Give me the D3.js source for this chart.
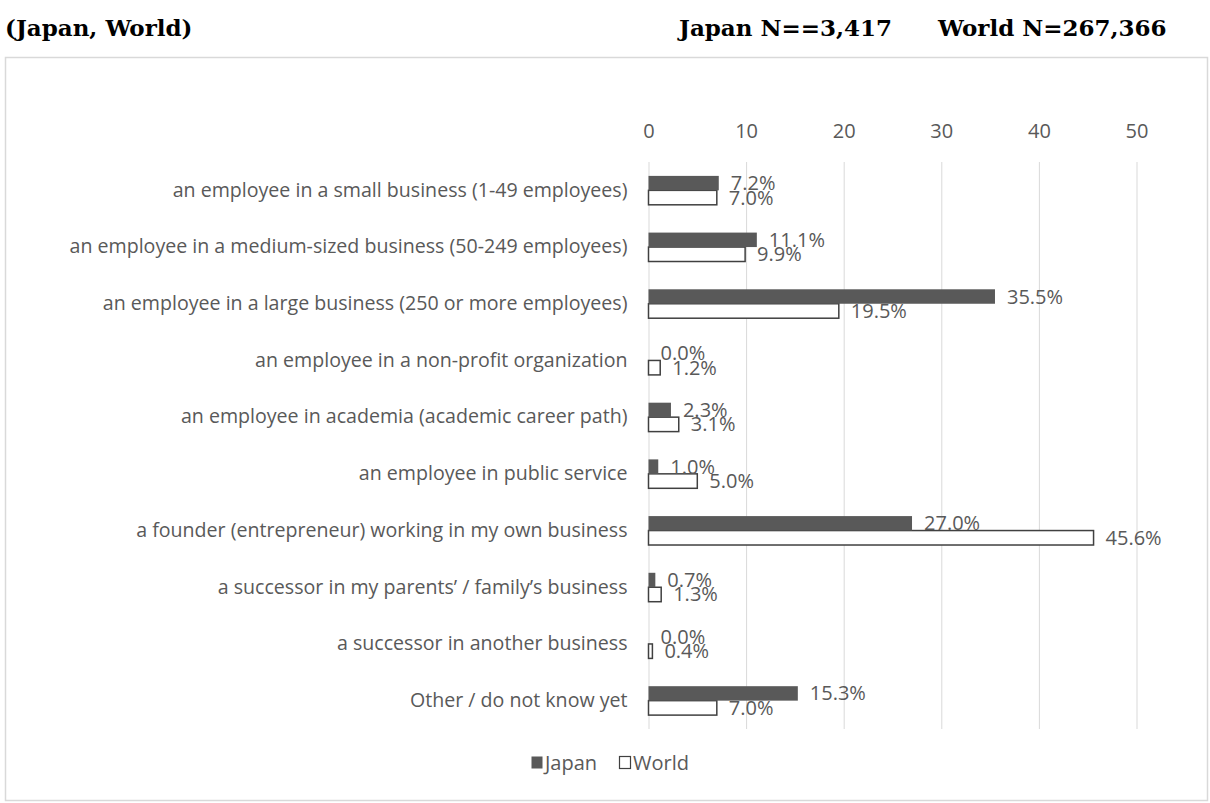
<!DOCTYPE html>
<html>
<head>
<meta charset="utf-8">
<script src="https://cdn.jsdelivr.net/npm/d3@7"></script>
<style>
  html, body { margin: 0; padding: 0; background: #fff; }
  svg { display: block; }
</style>
</head>
<body>
<svg id="chart" width="1210" height="803"></svg>
<script>
// Career intentions after studies, Japan vs. World (%)
const categories = [
  "an employee in a small business (1-49 employees)",
  "an employee in a medium-sized business (50-249 employees)",
  "an employee in a large business (250 or more employees)",
  "an employee in a non-profit organization",
  "an employee in academia (academic career path)",
  "an employee in public service",
  "a founder (entrepreneur) working in my own business",
  "a successor in my parents\u2019 / family\u2019s business",
  "a successor in another business",
  "Other / do not know yet"
];
const japanValues = [7.2, 11.1, 35.5, 0.0, 2.3, 1.0, 27.0, 0.7, 0.0, 15.3];
const worldValues = [7.0, 9.9, 19.5, 1.2, 3.1, 5.0, 45.6, 1.3, 0.4, 7.0];
const seriesNames = ["Japan", "World"];
const xTickValues = [0, 10, 20, 30, 40, 50];
const headingLeft = "(Japan, World)";
const headingJapanN = "Japan N==3,417";
const headingWorldN = "World N=267,366";

const svg = d3.select("#chart");
const textColor = "#595959";
const labelFont = "'Open Sans', 'Noto Sans', sans-serif";
const headFont = "'DejaVu Serif', serif";

// Heading above the chart frame
const heading = [
  { text: headingLeft, x: 5 },
  { text: headingJapanN, x: 679 },
  { text: headingWorldN, x: 938 }
];
svg.append("g").selectAll("text").data(heading).join("text")
  .attr("x", d => d.x).attr("y", 36)
  .attr("font-family", headFont).attr("font-weight", "bold").attr("font-size", 23)
  .attr("fill", "#000").text(d => d.text);

// Chart frame
svg.append("rect").attr("x", 5.5).attr("y", 57.5).attr("width", 1202).attr("height", 743)
  .attr("fill", "#fff").attr("stroke", "#d9d9d9").attr("stroke-width", 1.5);

const plotTop = 162, plotBottom = 729;
const x = d3.scaleLinear().domain([0, 50]).range([648.5, 1136.5]);
const y = d3.scaleBand().domain(categories).range([plotTop, plotBottom])
  .paddingInner(0.49).paddingOuter(0.245);
const ySub = d3.scaleBand().domain(seriesNames).range([0, y.bandwidth()]);

// Vertical gridlines
const grid = svg.append("g").attr("transform", `translate(0,${plotTop})`)
  .call(d3.axisBottom(x).tickValues(xTickValues).tickSize(plotBottom - plotTop).tickFormat(""));
grid.select(".domain").remove();
grid.selectAll(".tick line").attr("stroke", "#d9d9d9").attr("stroke-width", 1);

// Value axis labels on top
const axisTop = svg.append("g").attr("transform", "translate(0,138)")
  .call(d3.axisTop(x).tickValues(xTickValues).tickSize(0).tickPadding(0));
axisTop.select(".domain").remove();
axisTop.selectAll(".tick text")
  .attr("dy", 0)
  .attr("font-family", labelFont).attr("font-size", 20).attr("fill", textColor);

// Category labels
const yAxis = svg.append("g").attr("transform", `translate(${x(0)},0)`)
  .call(d3.axisLeft(y).tickSize(0).tickPadding(21));
yAxis.select(".domain").remove();
yAxis.selectAll(".tick text")
  .attr("font-family", labelFont).attr("font-size", 19.6).attr("fill", textColor);

const rows = categories.map((c, i) => ({ cat: c, Japan: japanValues[i], World: worldValues[i] }));
const fmt = v => v.toFixed(1) + "%";

const groups = svg.append("g").selectAll("g").data(rows).join("g")
  .attr("transform", d => `translate(0,${y(d.cat)})`);

// World bars (outlined)
groups.append("rect")
  .attr("x", x(0)).attr("y", ySub("World"))
  .attr("width", d => x(d.World) - x(0)).attr("height", ySub.bandwidth())
  .attr("fill", "#fff").attr("stroke", "#404040").attr("stroke-width", 1.5);

// Japan bars (solid)
groups.append("rect")
  .attr("x", x(0)).attr("y", ySub("Japan"))
  .attr("width", d => x(d.Japan) - x(0)).attr("height", ySub.bandwidth())
  .attr("fill", "#595959");

// Value labels
seriesNames.forEach(s => {
  groups.append("text")
    .attr("x", d => x(d[s]) + 12)
    .attr("y", ySub(s) + ySub.bandwidth() / 2)
    .attr("dy", "0.35em")
    .attr("font-family", labelFont).attr("font-size", 20).attr("fill", textColor)
    .text(d => fmt(d[s]));
});

// Legend
const legend = svg.append("g").attr("transform", "translate(531,763)");
const legendItems = legend.selectAll("g").data(seriesNames).join("g")
  .attr("transform", (d, i) => `translate(${i * 88},0)`);
legendItems.append("rect")
  .attr("x", 0.5).attr("y", -6.5).attr("width", 11).attr("height", 12)
  .attr("fill", d => d === "Japan" ? "#595959" : "#fff")
  .attr("stroke", d => d === "Japan" ? "none" : "#404040").attr("stroke-width", 1.2);
legendItems.append("text")
  .attr("x", 14).attr("y", 0).attr("dy", "0.35em")
  .attr("font-family", labelFont).attr("font-size", 20).attr("fill", textColor)
  .text(d => d);
</script>
</body>
</html>
